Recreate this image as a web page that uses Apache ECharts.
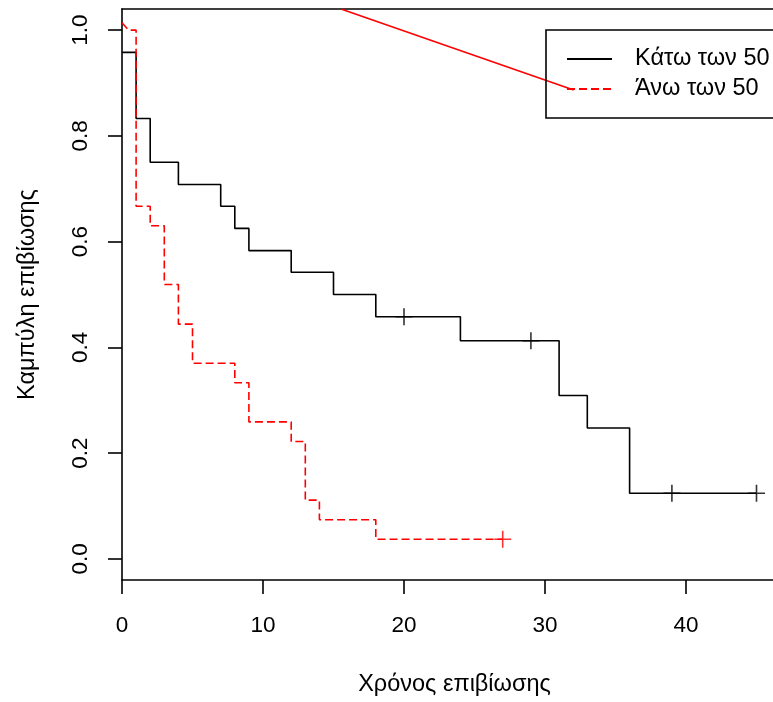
<!DOCTYPE html>
<html>
<head>
<meta charset="utf-8">
<script src="https://cdn.jsdelivr.net/npm/echarts@6/dist/echarts.min.js"></script>
<style>html,body{margin:0;padding:0;background:#fff}#c{width:773px;height:702px}</style>
</head>
<body>
<div id="c"></div>
<script>
// ---- data ----
const seriesNames = ['Κάτω των 50', 'Άνω των 50'];
// Κάτω των 50 (black, solid)
const katoTimes = [0, 1, 2, 4, 7, 8, 9, 12, 15, 18, 24, 31, 33, 36, 45];
const katoSurv  = [0.958, 0.833, 0.75, 0.708, 0.667, 0.625, 0.583, 0.542, 0.5, 0.458, 0.4125, 0.309, 0.2475, 0.124, 0.124];
const katoCensorTimes = [20, 29, 39, 45];
const katoCensorSurv  = [0.458, 0.4125, 0.124, 0.124];
// Άνω των 50 (red, dashed) — first point is the short lead-in stroke at the top-left
const anoLead = [0, 1.014];
const anoTimes = [0.47, 1, 2, 3, 4, 5, 8, 9, 12, 13, 14, 18, 27];
const anoSurv  = [1.0, 0.667, 0.630, 0.519, 0.444, 0.370, 0.333, 0.259, 0.222, 0.111, 0.074, 0.037, 0.037];
const anoCensorTimes = [27];
const anoCensorSurv  = [0.037];
// red pointer line to the legend
const pointerX = [15.53, 32.03];
const pointerY = [1.04, 0.887];
// axes
const xTicks = [0, 10, 20, 30, 40];
const yTicks = [0, 0.2, 0.4, 0.6, 0.8, 1.0];
const xTitle = 'Χρόνος επιβίωσης';
const yTitle = 'Καμπύλη επιβίωσης';

function stepPoints(ts, ss) {
  const pts = [];
  for (let i = 0; i < ts.length; i++) {
    pts.push([ts[i], ss[i]]);
    if (i < ts.length - 1) pts.push([ts[i + 1], ss[i]]);
  }
  return pts;
}
const FONT = 'Liberation Sans, Arial, sans-serif';
const plus = 'path://M8,0L8,16M0,8L16,8';
const LW = 1.6;

const chart = echarts.init(document.getElementById('c'), null, {renderer: 'canvas'});
chart.setOption({
  animation: false,
  backgroundColor: '#fff',
  grid: {left: 122, right: 0, top: 9, bottom: 121, containLabel: false},
  xAxis: [{
    type: 'value', min: 0, max: 46.17, position: 'bottom',
    name: xTitle, nameLocation: 'middle', nameGap: 93,
    nameTextStyle: {fontFamily: FONT, fontSize: 23.5, color: '#000', padding: [0, 0, 0, 14]},
    axisLine: {show: true, onZero: false, lineStyle: {color: '#000', width: LW}},
    axisTick: {show: true, customValues: xTicks, length: 14, lineStyle: {color: '#000', width: LW}},
    axisLabel: {customValues: xTicks, margin: 34, fontFamily: FONT, fontSize: 22.5, color: '#000'},
    splitLine: {show: false}
  }, {
    type: 'value', min: 0, max: 46.17, position: 'top',
    axisLine: {show: true, onZero: false, lineStyle: {color: '#000', width: LW}},
    axisTick: {show: false}, axisLabel: {show: false}, splitLine: {show: false}
  }],
  yAxis: {
    type: 'value', min: -0.04, max: 1.04,
    name: yTitle, nameLocation: 'middle', nameGap: 82, nameRotate: 90,
    nameTextStyle: {fontFamily: FONT, fontSize: 23.5, color: '#000'},
    axisLine: {show: true, onZero: false, lineStyle: {color: '#000', width: LW}},
    axisTick: {show: true, customValues: yTicks, length: 14, lineStyle: {color: '#000', width: LW}},
    axisLabel: {customValues: yTicks, rotate: 90, margin: 30, fontFamily: FONT, fontSize: 22.5, color: '#000',
      formatter: v => v.toFixed(1)},
    splitLine: {show: false}
  },
  legend: {
    data: seriesNames, orient: 'vertical', left: 546, top: 30,
    borderColor: '#000', borderWidth: LW, backgroundColor: 'transparent',
    padding: [17, 60, 17, 20], itemWidth: 45, itemHeight: 24, itemGap: 6,
    itemStyle: {opacity: 0, color: 'transparent', borderWidth: 0},
    textStyle: {fontFamily: FONT, fontSize: 23.5, color: '#000', padding: [0, 0, 0, 18]},
    selectedMode: false
  },
  series: [{
    name: seriesNames[0], type: 'line', data: stepPoints(katoTimes, katoSurv),
    symbol: 'none', color: '#000', lineStyle: {color: '#000', width: LW}, z: 3
  }, {
    name: seriesNames[1], type: 'line',
    data: [anoLead].concat(stepPoints(anoTimes, anoSurv)),
    symbol: 'none', color: '#ff0000', lineStyle: {color: '#ff0000', width: LW, type: [8, 4]}, z: 3
  }, {
    type: 'scatter', data: katoCensorTimes.map((t, i) => [t, katoCensorSurv[i]]),
    symbol: plus, symbolSize: 17,
    itemStyle: {color: 'none', borderColor: '#000', borderWidth: LW}, z: 4
  }, {
    type: 'scatter', data: anoCensorTimes.map((t, i) => [t, anoCensorSurv[i]]),
    symbol: plus, symbolSize: 17,
    itemStyle: {color: 'none', borderColor: '#ff0000', borderWidth: LW}, z: 4
  }, {
    type: 'line', data: pointerX.map((x, i) => [x, pointerY[i]]),
    symbol: 'none', lineStyle: {color: '#ff0000', width: LW}, z: 2
  }]
});
</script>
</body>
</html>
